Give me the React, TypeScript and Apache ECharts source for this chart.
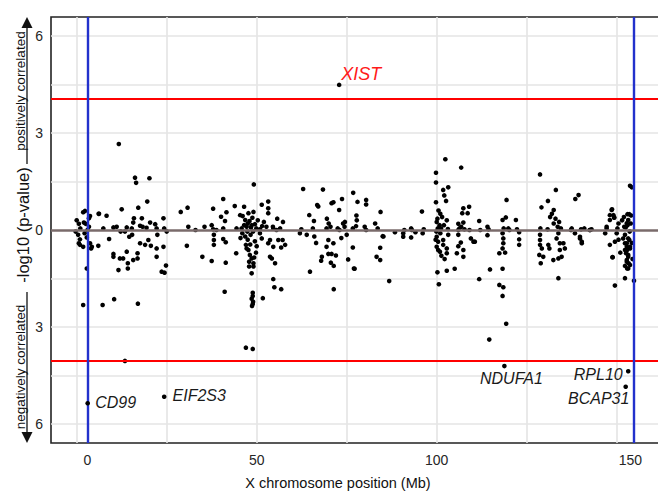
import React, { useEffect, useRef } from "react";
import * as echarts from "echarts";

// ---- axis / scale settings ----
const X_MIN = -7.14;
const X_MAX = 163.97;
const Y_MIN = -6.59;
const Y_MAX = 6.59;
const xTickPos = [3.0, 50, 100, 153.8];
const xTickLabels = ["0", "50", "100", "150"];
const yTickPos = [-6, -3, 0, 3, 6];
const xGrid = [0, 25, 50, 75, 100, 125, 150];
const yGrid = [-6, -4.5, -3, -1.5, 1.5, 3, 4.5, 6];
const threshold = [4.06, -4.06];
const parBounds = [3.0, 154.6];

// ---- data: position (Mb) and signed -log10(p) ----
const posMb = [
  // PAR1 region
  0.6, 2.0, 2.5, 3.4, 1.8, 2.3, 3.7, 3.4, 6.2, 8.3, 0.4, 0.9, 0.6, 1.8, 0.9, 3.7, 4.2, 4.0, 6.0, 2.8, 2.8, 1.8, 0.0, -0.3, 1.0, 2.2, 3.0,
  // 5-27 Mb
  11.7, 16.2, 16.5, 20.2, 19.6, 17.1, 12.5, 6.1, 7.4, 10.2, 11.1, 13.9, 15.3, 15.7, 15.9, 18.1, 18.3, 19.4, 20.4, 21.8, 24.1, 24.3, 25.0, 22.2, 17.6, 13.4, 12.2,
  9.0, 10.2, 10.2, 12.0, 12.9, 11.6, 13.9, 14.2, 14.2, 15.7, 16.9, 16.9, 17.6, 19.0, 20.6, 22.2, 22.2, 24.1, 23.6, 24.4, 24.8, 22.4, 14.6, 15.4, 19.9, 7.2, 10.4, 17.0, 13.4,
  // 27-44 Mb
  28.9, 30.8, 31.0, 30.6, 34.9, 37.5, 37.9, 40.7, 40.1, 41.2, 41.6, 37.5, 38.1, 38.1, 38.1, 40.7, 41.4, 41.4, 41.1, 37.9, 38.8, 40.7, 43.9, 44.3, 44.4, 33.0, 35.5,
  // 44-58 Mb
  46.5, 45.4, 46.1, 46.8, 47.7, 49.1, 49.2, 51.4, 53.2, 53.2, 53.2, 54.5, 55.7, 57.3, 56.5, 45.8, 47.2, 48.6, 49.9, 50.9, 52.7, 47.5, 48.0, 48.4, 49.5, 50.3, 51.5, 46.5, 48.8, 52.0, 55.5, 54.6,
  47.0, 47.2, 47.7, 48.1, 48.6, 47.9, 49.1, 49.1, 47.9, 48.6, 48.9, 48.9, 48.6, 49.0, 48.9, 48.7, 51.7, 47.0, 48.9, 50.9, 51.4, 53.7, 53.2, 54.6, 56.0, 57.2, 57.9, 53.7, 54.2, 55.1, 56.8, 54.6, 54.9, 56.8, 46.0, 46.8, 47.5, 48.3, 49.5, 50.0, 45.5, 49.8, 48.2, 49.3, 47.4, 49.0,
  // 58-78 Mb
  62.9, 68.4, 66.8, 67.1, 64.6, 65.9, 71.3, 70.8, 72.9, 73.7, 69.5, 70.0, 70.5, 72.5, 74.0, 74.5, 76.8, 78.0, 77.7, 77.8, 62.4, 65.6, 69.4, 73.0, 76.7,
  62.0, 63.9, 64.8, 68.1, 67.9, 69.4, 69.9, 70.8, 72.0, 70.6, 71.4, 71.4, 69.9, 71.3, 75.4, 76.7, 77.0, 75.0, 77.2, 66.0, 73.5, 66.5,
  // 78-98 Mb
  80.4, 80.4, 84.4, 80.0, 82.9, 85.2, 90.7, 92.9, 92.9, 95.9, 96.1, 83.3, 84.3, 84.3, 85.0, 86.8, 88.4, 90.7, 94.1, 74.4, 77.6, 80.4, 83.6, 91.0, 93.1, 96.4,
  // 98-112 Mb
  99.8, 99.8, 102.4, 106.8, 103.2, 101.8, 102.1, 102.6, 99.8, 100.5, 101.0, 100.2, 100.0, 102.0, 101.2, 100.3, 103.1, 109.0, 108.6, 107.4, 107.1, 106.0, 106.8, 107.4, 106.0, 106.3, 107.7, 109.1, 101.5, 102.8, 100.8,
  100.0, 100.4, 100.0, 100.9, 101.8, 102.8, 103.2, 102.8, 101.8, 100.4, 100.2, 100.6, 102.8, 105.0, 106.0, 106.0, 106.7, 105.6, 107.4, 107.4, 109.5, 110.2, 110.6, 101.0, 99.9, 101.3, 102.2, 99.7,
  // 111-125 Mb
  111.8, 114.1, 118.3, 119.2, 119.4, 122.0, 119.9, 112.1, 114.4, 118.6, 120.2, 122.3, 111.8, 114.1, 114.8, 118.3, 118.5, 118.5, 118.3, 117.4, 119.0, 118.3, 117.4, 118.5, 118.3, 119.3, 114.6, 122.9, 122.9, 122.9,
  // 126-145 Mb
  128.7, 133.1, 130.9, 129.1, 138.5, 139.4, 132.5, 132.0, 131.5, 133.0, 134.0, 132.5, 137.5, 141.0, 143.0, 128.8, 130.8, 133.6, 134.5, 137.3, 140.1, 142.6,
  128.7, 128.7, 128.7, 129.2, 128.5, 128.9, 129.6, 131.0, 131.3, 132.4, 133.8, 133.8, 133.3, 134.2, 134.2, 135.2, 135.6, 134.7, 133.8, 139.8, 140.3, 138.4, 139.8, 140.3, 142.5,
  // 145-156 Mb
  148.7, 149.3, 148.1, 147.2, 146.8, 153.7, 154.2, 153.0, 153.5, 153.2, 152.8, 152.5, 153.6, 148.6, 149.1, 148.1, 149.3, 150.2, 152.1, 153.0, 153.9, 151.5, 152.0, 154.0, 150.5, 147.2,
  152.3, 153.2, 152.8, 153.7, 152.3, 153.2, 152.8, 153.7, 153.2, 151.8, 152.3, 152.8, 152.9, 152.6, 153.2, 152.8, 152.3, 152.9, 153.5, 153.7, 153.3, 148.1, 149.5, 148.8, 149.5, 152.3, 154.8, 150.0, 148.9, 154.2, 154.4, 151.0, 150.5,
];

const logP = [
  0.19, 0.23, 0.19, 0.1, 0.55, 0.59, 0.43, 0.36, 0.5, 0.44, -0.15, -0.29, -0.41, -0.52, -0.46, -0.41, -0.52, -0.57, -0.49, -0.23, -1.19, -2.32, 0.3, -0.05, 0.05, -0.1, 0.0,
  2.66, 1.62, 1.46, 1.6, 0.88, 0.69, 0.64, 0.5, 0.05, 0.08, 0.1, 0.08, 0.05, 0.23, 0.36, 0.36, 0.1, 0.07, 0.23, 0.18, 0.36, 0.05, -0.05, 0.05, 0.13, -0.05, -0.05,
  -0.28, -0.74, -0.83, -0.88, -0.88, -1.24, -0.67, -1.03, -1.19, -0.93, -0.72, -0.88, -0.41, -0.46, -0.49, -0.57, -0.83, -0.52, -1.29, -1.32, -1.1, -0.15, -0.21, -0.15, -0.31, -2.32, -2.14, -2.28, -4.05,
  0.56, 0.69, 0.1, -0.49, -0.83, -0.96, 0.66, 0.96, 0.41, 0.28, 0.55, 0.15, -0.15, -0.31, -0.46, -0.28, -0.38, -1.01, -1.91, 0.02, 0.0, 0.05, 0.74, -0.72, 0.05, 0.0, 0.1,
  0.72, 0.46, 0.43, 0.31, 0.52, 0.56, 1.41, 0.78, 0.88, 0.67, 0.52, 0.1, 0.35, 0.25, 0.05, 0.05, 0.1, 0.15, 0.05, 0.02, 0.1, 0.2, 0.28, 0.08, 0.18, 0.3, 0.12, 0.15, 0.38, 0.25, 0.0, 0.05,
  -0.46, -0.57, -0.62, -0.77, -0.88, -0.98, -1.03, -1.13, -1.13, -1.34, -1.94, -2.04, -2.13, -2.22, -2.29, -2.35, -2.11, -3.64, -3.68, -0.1, -0.26, -0.31, -0.41, -0.52, -0.31, -0.31, -0.46, -0.83, -0.88, -1.03, -0.54, -1.52, -1.77, -1.83, -0.1, -0.2, -0.3, -0.15, -0.35, -0.5, -0.25, -0.7, -0.45, -0.85, -0.05, -0.05,
  1.27, 1.25, 0.77, 0.73, 0.46, 0.28, 0.86, 0.83, 0.62, 0.96, 0.35, 0.2, 0.1, 0.05, 0.2, 0.25, 1.15, 0.87, 0.45, 0.3, 0.02, 0.05, 0.05, 0.0, 0.05,
  -0.1, -0.15, -1.29, -0.83, -0.95, -0.52, -0.74, -0.74, -0.79, -1.01, -1.11, -1.83, -0.31, -0.41, -0.91, -0.54, -1.19, -0.15, -1.2, -0.2, -0.25, -0.4,
  0.93, 0.79, 0.56, 0.1, 0.2, -0.2, -0.1, 0.05, -0.23, 0.57, -0.1, -0.83, -0.55, -0.93, -0.19, -1.58, -0.07, -0.21, -0.07, 0.1, 0.12, 0.0, 0.05, 0.0, 0.0, 0.02,
  1.77, 1.47, 2.19, 1.93, 1.32, 1.24, 1.07, 0.9, 0.86, 0.6, 0.5, 0.35, 0.25, 0.15, 0.05, 0.05, 0.03, 0.72, 0.52, 0.67, 0.52, 0.19, 0.1, 0.23, 0.0, 0.05, 0.02, 0.0, 0.4, 0.3, 0.15,
  -0.21, -0.36, -0.52, -0.67, -0.46, -0.57, -0.15, -0.72, -0.31, -0.62, -1.31, -1.68, -1.26, -1.2, -0.15, -0.5, -0.39, -0.72, -0.62, -0.83, -0.26, -0.36, -0.36, -0.1, -0.05, -0.8, -0.9, -0.3,
  0.28, 0.1, 0.31, 0.39, 0.93, 0.31, 0.05, 0.0, 0.02, 0.05, 0.0, 0.02, -1.52, -0.16, -1.22, -0.1, -0.26, -0.41, -0.57, -0.72, -0.7, -1.2, -1.7, -1.77, -2.04, -2.9, -3.39, -0.07, -0.29, -0.46,
  1.72, 1.24, 0.9, 0.7, 0.96, 1.08, 0.62, 0.5, 0.4, 0.35, 0.25, 0.2, 0.05, 0.05, 0.02, 0.05, 0.02, 0.1, 0.05, 0.0, 0.02, 0.0,
  -0.15, -0.31, -0.46, -0.57, -0.77, -1.03, -0.83, -0.46, -0.57, -0.93, -1.49, -0.1, -0.26, -0.41, -0.62, -0.41, -0.57, -0.83, -0.88, -0.21, -0.41, -0.1, -0.26, -0.36, 0.0,
  0.64, 0.39, 0.46, 0.1, -0.1, 1.37, 1.32, 0.49, 0.49, 0.31, 0.21, 0.08, -0.05, 0.62, 0.46, 0.31, 0.38, 0.05, 0.1, 0.15, 0.2, 0.3, 0.4, 0.45, 0.2, 0.05,
  -0.15, -0.26, -0.41, -0.52, -0.62, -0.77, -0.93, -1.08, -1.19, -0.26, -0.41, -0.52, -0.62, -0.72, -0.83, -0.98, -1.11, -1.19, -0.31, -0.57, -1.03, -0.46, -0.36, -0.84, -1.72, -1.49, -1.57, -0.1, -0.84, -0.4, -0.9, -0.7, -0.3,
];

// labelled genes
const geneNames = ["XIST", "CD99", "EIF2S3", "NDUFA1", "RPL10", "BCAP31"];
const genePos = [72.9, 3.05, 24.3, 118.8, 153.2, 152.5];
const geneLogP = [4.49, -5.36, -5.16, -4.21, -4.37, -4.85];

// label placement (styling, not data)
const labelStyle: Record<string, { offset: number[]; color: string; fontSize: number }> = {
  XIST: { offset: [22, -11], color: "#ff1a1a", fontSize: 18 },
  CD99: { offset: [28, -1], color: "#1a1a1a", fontSize: 16 },
  EIF2S3: { offset: [35, -1], color: "#1a1a1a", fontSize: 16 },
  NDUFA1: { offset: [7, 12], color: "#1a1a1a", fontSize: 16 },
  RPL10: { offset: [-30, 3], color: "#1a1a1a", fontSize: 16 },
  BCAP31: { offset: [-27, 12], color: "#1a1a1a", fontSize: 16 },
};

const FONT = "'Liberation Sans', Arial, Helvetica, sans-serif";

export default function App() {
  const ref = useRef<HTMLDivElement>(null);
  useEffect(() => {
    if (!ref.current) return;
    const chart = echarts.init(ref.current, undefined, { renderer: "svg" });
    const points = posMb.map((x, i) => [x, logP[i]]);
    const genePoints = geneNames.map((name, i) => {
      const s = labelStyle[name];
      return {
        value: [genePos[i], geneLogP[i]],
        name,
        label: {
          show: true,
          position: "inside",
          offset: s.offset,
          formatter: name,
          color: s.color,
          opacity: 1,
          fontSize: s.fontSize,
          fontStyle: "italic",
          fontFamily: FONT,
          textBorderWidth: 0,
        },
      };
    });
    const option: any = {
      animation: false,
      backgroundColor: "#ffffff",
      textStyle: { fontFamily: FONT },
      grid: {
        left: 51,
        top: 17,
        width: 616,
        height: 426,
        show: true,
        containLabel: false,
        outerBoundsMode: "none",
        backgroundColor: "#ffffff",
        borderColor: "#222222",
        borderWidth: 1.6,
      },
      xAxis: {
        type: "value",
        min: X_MIN,
        max: X_MAX,
        axisLine: { show: false },
        axisTick: { show: false },
        splitLine: { show: false },
        axisLabel: {
          customValues: xTickPos,
          formatter: (v: number) => {
            let best = 0;
            xTickPos.forEach((p, i) => {
              if (Math.abs(p - v) < Math.abs(xTickPos[best] - v)) best = i;
            });
            return xTickLabels[best];
          },
          fontSize: 14,
          color: "#262626",
          margin: 10,
          fontFamily: FONT,
        },
      },
      yAxis: {
        type: "value",
        min: Y_MIN,
        max: Y_MAX,
        axisLine: { show: false },
        axisTick: { show: false },
        splitLine: { show: false },
        axisLabel: {
          customValues: yTickPos,
          formatter: (v: number) => String(Math.abs(Math.round(v))),
          fontSize: 14,
          color: "#262626",
          margin: 8,
          fontFamily: FONT,
        },
      },
      series: [
        {
          type: "scatter",
          data: [],
          z: 1,
          silent: true,
          markLine: {
            z: 1,
            silent: true,
            symbol: "none",
            animation: false,
            label: { show: false },
            lineStyle: { color: "#e4e4e4", width: 1.6, type: "solid", opacity: 1 },
            data: [
              ...xGrid.map((v) => ({ xAxis: v })),
              ...yGrid.map((v) => ({ yAxis: v })),
            ],
          },
        },
        {
          type: "scatter",
          data: points,
          symbol: "circle",
          symbolSize: 4.6,
          itemStyle: { color: "#000000", opacity: 1 },
          z: 3,
          silent: true,
        },
        {
          type: "scatter",
          data: [],
          z: 4,
          silent: true,
          markLine: {
            z: 4,
            silent: true,
            symbol: "none",
            animation: false,
            label: { show: false },
            data: [
              ...threshold.map((v) => ({ yAxis: v, lineStyle: { color: "#ff0000", width: 2.2, type: "solid", opacity: 1 } })),
              ...parBounds.map((v) => ({ xAxis: v, lineStyle: { color: "#2231cc", width: 2.4, type: "solid", opacity: 1 } })),
              { yAxis: 0, lineStyle: { color: "#7a6b6b", width: 2.5, type: "solid", opacity: 1 } },
            ],
          },
        },
        {
          type: "scatter",
          data: genePoints,
          symbol: "circle",
          symbolSize: 4.6,
          itemStyle: { color: "#000000", opacity: 1 },
          z: 5,
          silent: true,
        },
      ],
      graphic: [
        {
          type: "text",
          x: 20,
          y: 91,
          rotation: Math.PI / 2,
          style: {
            text: "positively correlated",
            fontSize: 13.5,
            fontFamily: FONT,
            fill: "#111111",
            textAlign: "center",
            textVerticalAlign: "middle",
          },
        },
        {
          type: "text",
          x: 23,
          y: 225,
          rotation: Math.PI / 2,
          style: {
            text: "-log10 (p-value)",
            fontSize: 16.5,
            fontFamily: FONT,
            fill: "#111111",
            textAlign: "center",
            textVerticalAlign: "middle",
          },
        },
        {
          type: "text",
          x: 20,
          y: 367,
          rotation: Math.PI / 2,
          style: {
            text: "negatively correlated",
            fontSize: 13.5,
            fontFamily: FONT,
            fill: "#111111",
            textAlign: "center",
            textVerticalAlign: "middle",
          },
        },
        {
          type: "line",
          shape: { x1: 27, y1: 27, x2: 27, y2: 164 },
          style: { stroke: "#111111", lineWidth: 1.3 },
        },
        {
          type: "polygon",
          shape: { points: [[27, 17], [21.5, 28], [32.5, 28]] },
          style: { fill: "#111111" },
        },
        {
          type: "line",
          shape: { x1: 27, y1: 292, x2: 27, y2: 434 },
          style: { stroke: "#111111", lineWidth: 1.3 },
        },
        {
          type: "polygon",
          shape: { points: [[27, 443], [21.5, 432], [32.5, 432]] },
          style: { fill: "#111111" },
        },
        {
          type: "text",
          x: 338,
          y: 483,
          style: {
            text: "X chromosome position (Mb)",
            fontSize: 14.5,
            fontFamily: FONT,
            fill: "#111111",
            textAlign: "center",
            textVerticalAlign: "middle",
          },
        },
      ],
    };
    chart.setOption(option);
    return () => chart.dispose();
  }, []);
  return (
    <div
      ref={ref}
      style={{ position: "fixed", left: 0, top: 0, width: 658, height: 496, background: "#fff" }}
    />
  );
}
